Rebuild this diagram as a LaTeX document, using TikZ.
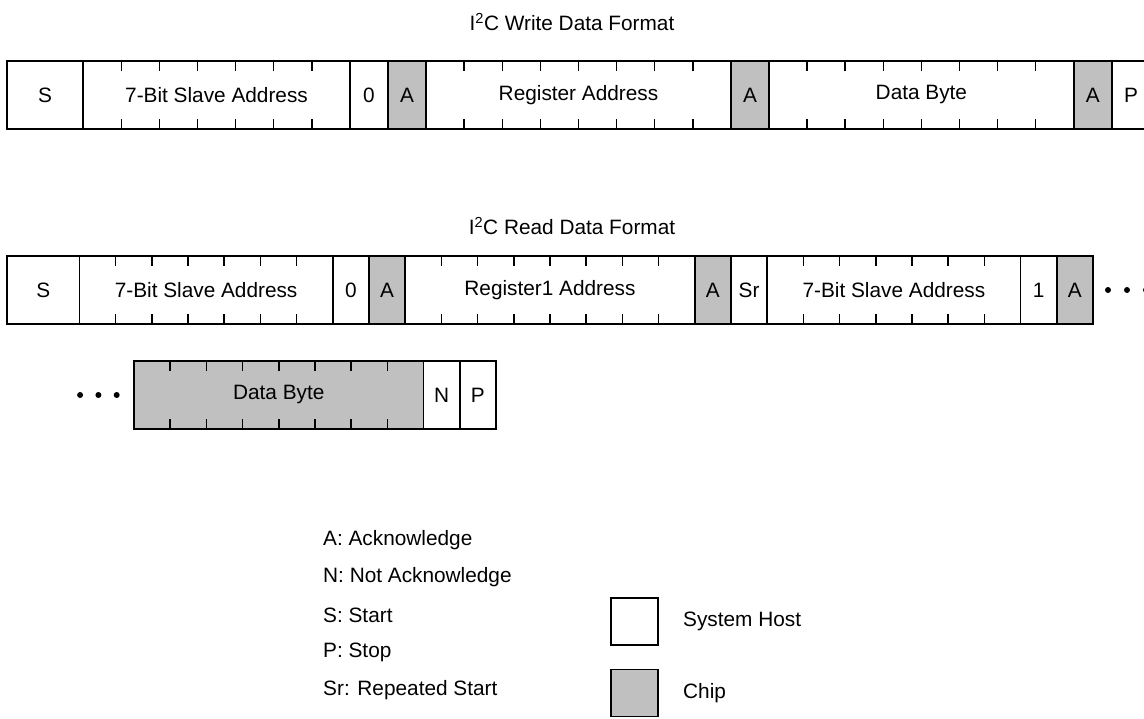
\documentclass[tikz,border=0pt]{standalone}
\usepackage{fontspec}
\setmainfont{Liberation Sans}
\usetikzlibrary{positioning, calc}
\definecolor{chipgray}{HTML}{C0C0C0}

\begin{document}
\begin{tikzpicture}[
    x=1pt, y=-1pt,
    font=\fontsize{20.8}{25}\selectfont,
    node distance=0pt,
    field/.style={rectangle, draw=black, line width=1.5pt, minimum height=68pt, minimum width=#1, inner sep=0pt, outer sep=0pt},
    host/.style={field=#1, fill=white},
    chip/.style={field=#1, fill=chipgray},
    tick/.style={line width=1.5pt},
    legendtext/.style={anchor=west, inner sep=0pt}
]
    \useasboundingbox (0,0) rectangle (1144,719);

    \node (wTitle) at (572,22) {I\textsuperscript{2}C Write Data Format};
    \node[host=76.2pt, anchor=west] (wS) at (7,95) {S};
    \node[host=266.7pt] (wAddr) [right=of wS] {7-Bit Slave Address};
    \node[host=38.1pt] (wZero) [right=of wAddr] {0};
    \node[chip=38.1pt] (wAck1) [right=of wZero] {A};
    \node[host=304.8pt] (wReg) [right=of wAck1] {Register Address};
    \node[chip=38.1pt] (wAck2) [right=of wReg] {A};
    \node[host=304.8pt] (wData) [right=of wAck2] {Data Byte};
    \node[chip=38.1pt] (wAck3) [right=of wData] {A};
    \node[host=38.1pt] (wStop) [right=of wAck3] {P};

    \node (rTitle) at (572,226) {I\textsuperscript{2}C Read Data Format};
    \node[host=72.4pt, anchor=west] (rS) at (7,290) {S};
    \node[host=253.4pt] (rAddr) [right=of rS] {7-Bit Slave Address};
    \node[host=36.2pt] (rZero) [right=of rAddr] {0};
    \node[chip=36.2pt] (rAck1) [right=of rZero] {A};
    \node[host=289.6pt] (rReg) [right=of rAck1] {Register1 Address};
    \node[chip=36.2pt] (rAck2) [right=of rReg] {A};
    \node[host=36.2pt] (rSr) [right=of rAck2] {Sr};
    \node[host=253.4pt] (rAddr2) [right=of rSr] {7-Bit Slave Address};
    \node[host=36.2pt] (rOne) [right=of rAddr2] {1};
    \node[chip=36.2pt] (rAck3) [right=of rOne] {A};

    \node[chip=289.6pt, anchor=west] (dByte) at (134,395) {Data Byte};
    \node[host=36.2pt] (dNack) [right=of dByte] {N};
    \node[host=36.2pt] (dStop) [right=of dNack] {P};

    \foreach \f/\n in {wAddr/7, wReg/8, wData/8, rAddr/7, rReg/8, rAddr2/7, dByte/8} {
        \pgfmathtruncatemacro{\m}{\n-1}
        \foreach \i in {1,...,\m} {
            \draw[tick] ($(\f.north west)!\i/\n!(\f.north east)$) -- ++(0,10);
            \draw[tick] ($(\f.south west)!\i/\n!(\f.south east)$) -- ++(0,-10);
        }
    }

    \foreach \d in {1,2,3} {
        \fill ($(rAck3.east)+(\d*19-4,0)$) circle (3pt);
        \fill ($(dByte.west)+(-\d*18.3+1,0)$) circle (3pt);
    }

    \node[legendtext] (lAck) at (323,540) {A: Acknowledge};
    \node[legendtext] (lNack) at (323,577.5) {N: Not Acknowledge};
    \node[legendtext] (lStart) at (323,615) {S: Start};
    \node[legendtext] (lStop) at (323,652.5) {P: Stop};
    \node[legendtext] (lRestart) at (323,690) {Sr: Repeated Start};

    \node[host=47pt, minimum height=47pt] (kHost) at (634.5,621.5) {};
    \node[chip=47pt, minimum height=47pt] (kChip) at (634.5,693) {};
    \node[legendtext, right=25pt of kHost] (kHostText) {System Host};
    \node[legendtext, right=25pt of kChip] (kChipText) {Chip};
\end{tikzpicture}
\end{document}
